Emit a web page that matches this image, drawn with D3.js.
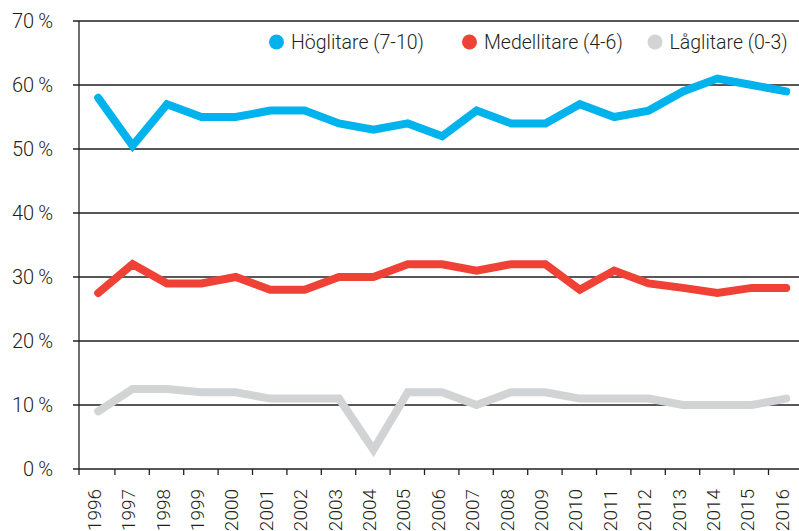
<!DOCTYPE html>
<html>
<head>
<meta charset="utf-8">
<script src="https://cdn.jsdelivr.net/npm/d3@7"></script>
<style>
  body { margin: 0; background: #fff; }
  text { font-family: Roboto, "Liberation Sans", sans-serif; font-weight: 300; fill: #231f20; }
</style>
</head>
<body>
<script>
// data
var years = ["1996","1997","1998","1999","2000","2001","2002","2003","2004","2005","2006",
             "2007","2008","2009","2010","2011","2012","2013","2014","2015","2016"];
var hog  = [58, 50.5, 57, 55, 55, 56, 56, 54, 53, 54, 52, 56, 54, 54, 57, 55, 56, 59, 61, 60, 59];
var med  = [27.5, 32, 29, 29, 30, 28, 28, 30, 30, 32, 32, 31, 32, 32, 28, 31, 29, 28.3, 27.5, 28.3, 28.3];
var lag  = [9, 12.5, 12.5, 12, 12, 11, 11, 11, 3, 12, 12, 10, 12, 12, 11, 11, 11, 10, 10, 10, 11];
var seriesNames = ["Höglitare (7-10)", "Medellitare (4-6)", "Låglitare (0-3)"];
var seriesColors = ["#00b3ec", "#ef4136", "#d1d3d4"];
var yTicks = [0, 10, 20, 30, 40, 50, 60, 70];

var width = 799, height = 531;
var margin = {top: 21, left: 79, bottom: 62};

var svg = d3.select("body").append("svg")
    .attr("width", width)
    .attr("height", height);

var x = d3.scaleBand().domain(years).range([81, 81 + 21 * 34.4]);
var y = d3.scaleLinear().domain([0, 70]).range([height - margin.bottom, margin.top]);

// gridlines
svg.append("g").selectAll("line")
    .data(yTicks)
    .enter().append("line")
    .attr("x1", margin.left - 6)
    .attr("x2", width)
    .attr("y1", function(d) { return y(d); })
    .attr("y2", function(d) { return y(d); })
    .attr("stroke", "#231f20")
    .attr("stroke-width", 1.3);

// y labels
svg.append("g").selectAll("text")
    .data(yTicks)
    .enter().append("text")
    .attr("x", 53)
    .attr("y", function(d) { return y(d); })
    .attr("dy", "0.35em")
    .attr("text-anchor", "end")
    .style("font-size", "20px")
    .text(function(d) { return d + "\u2009%"; });

// y axis line
svg.append("line")
    .attr("x1", margin.left).attr("x2", margin.left)
    .attr("y1", y(70)).attr("y2", y(0) + 6)
    .attr("stroke", "#231f20").attr("stroke-width", 1.3);

// x ticks at band edges
svg.append("g").selectAll("line")
    .data(years.slice(1))
    .enter().append("line")
    .attr("x1", function(d) { return x(d) - 0.5; })
    .attr("x2", function(d) { return x(d) - 0.5; })
    .attr("y1", y(0))
    .attr("y2", y(0) + 6)
    .attr("stroke", "#231f20")
    .attr("stroke-width", 1.3);

// x labels, rotated
svg.append("g").selectAll("text")
    .data(years)
    .enter().append("text")
    .attr("transform", function(d) {
        return "translate(" + (x(d) + x.bandwidth() / 2 - 4) + "," + (y(0) + 20) + ") rotate(-90)";
    })
    .attr("dy", "0.35em")
    .attr("text-anchor", "end")
    .style("font-size", "19px")
    .text(function(d) { return d; });

// lines
var line = d3.line()
    .x(function(d, i) { return x(years[i]) + x.bandwidth() / 2; })
    .y(function(d) { return y(d); });

var allSeries = [lag, med, hog];
var allColors = [seriesColors[2], seriesColors[1], seriesColors[0]];

svg.append("g").selectAll("path")
    .data(allSeries)
    .enter().append("path")
    .attr("d", function(d) { return line(d); })
    .attr("fill", "none")
    .attr("stroke", function(d, i) { return allColors[i]; })
    .attr("stroke-width", 8)
    .attr("stroke-linejoin", "miter")
    .attr("stroke-linecap", "round");

// legend
var legendX = [276.5, 469.5, 655];
var legend = svg.append("g").selectAll("g")
    .data(seriesNames)
    .enter().append("g")
    .attr("transform", function(d, i) { return "translate(" + legendX[i] + ",42)"; });

legend.append("circle")
    .attr("r", 7.5)
    .attr("fill", function(d, i) { return seriesColors[i]; });

legend.append("text")
    .attr("x", 14.5)
    .attr("dy", "0.35em")
    .style("font-size", "19.5px")
    .text(function(d) { return d; });
</script>
</body>
</html>
